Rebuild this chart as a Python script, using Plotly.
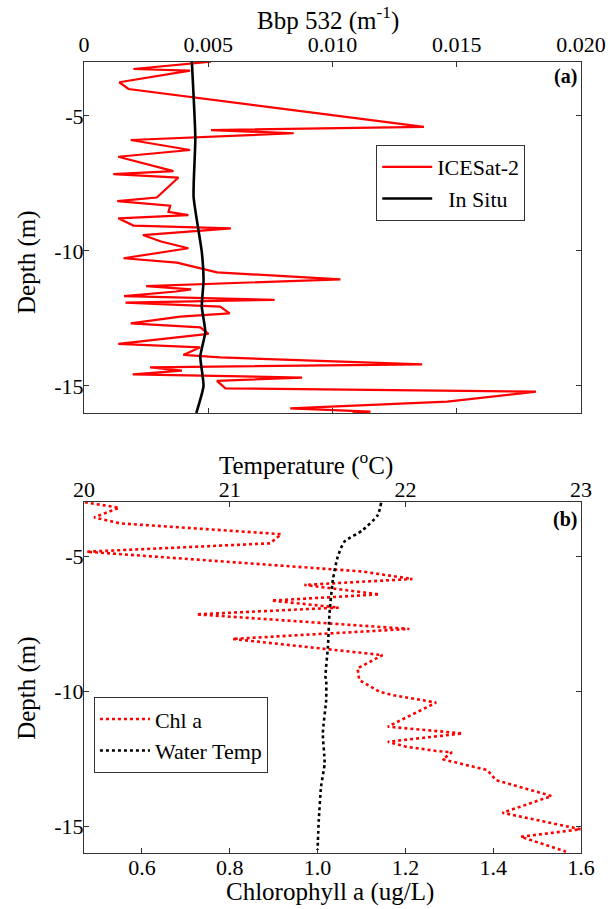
import plotly.graph_objects as go

# ---- Panel (a): backscatter profiles ----
icesat_bbp = [0.00511, 0.00199, 0.00427, 0.00142, 0.00179, 0.01368, 0.00511, 0.00844,
              0.00188, 0.00427, 0.00138, 0.00360, 0.00118, 0.00380, 0.00293, 0.00134,
              0.00347, 0.00340, 0.00420, 0.00138, 0.00199, 0.00591, 0.00237, 0.00310,
              0.00420, 0.00159, 0.00374, 0.00535, 0.01032, 0.00250, 0.00431, 0.00370,
              0.00161, 0.00767, 0.00167, 0.00548, 0.00586, 0.00387, 0.00188, 0.00468,
              0.00501, 0.00138, 0.00468, 0.00400, 0.00548, 0.01361, 0.00266, 0.00394,
              0.00196, 0.00878, 0.00535, 0.00569, 0.01819, 0.01462, 0.00830, 0.01153,
              0.01080]
icesat_depth = [-2.99, -3.26, -3.32, -3.75, -4.00, -5.40, -5.52, -5.64,
                -5.89, -6.26, -6.51, -7.04, -7.15, -7.28, -8.02, -8.15,
                -8.32, -8.55, -8.67, -8.79, -9.06, -9.16, -9.41, -9.65,
                -9.90, -10.27, -10.43, -10.79, -11.05, -11.30, -11.42, -11.50,
                -11.67, -11.81, -11.91, -12.06, -12.31, -12.43, -12.68, -12.83,
                -13.07, -13.44, -13.57, -13.85, -13.94, -14.20, -14.31, -14.43,
                -14.57, -14.69, -14.81, -15.09, -15.21, -15.58, -15.83, -15.95,
                -16.00]
insitu_bbp = [0.00434, 0.00448, 0.00441, 0.00474, 0.00481, 0.00474, 0.00488, 0.00468,
              0.00481, 0.00452]
insitu_depth = [-2.99, -5.83, -7.99, -10.03, -11.10, -12.06, -13.00, -13.91, -15.00, -16.00]

# ---- Panel (b): chlorophyll and temperature profiles ----
chl = [0.470, 0.548, 0.491, 0.550, 0.917, 0.892, 0.474, 1.100, 1.216, 0.970,
       1.141, 0.895, 1.048, 0.724, 1.209, 0.806, 1.148, 1.091, 1.095, 1.141,
       1.171, 1.270, 1.160, 1.330, 1.160, 1.201, 1.270, 1.306, 1.285, 1.387,
       1.406, 1.533, 1.421, 1.599, 1.463, 1.566]
chl_depth = [-3.01, -3.21, -3.57, -3.79, -4.19, -4.53, -4.84, -5.57, -5.85, -6.07,
             -6.42, -6.65, -6.91, -7.16, -7.70, -8.07, -8.67, -9.16, -9.59, -10.03,
             -10.15, -10.43, -11.32, -11.57, -11.88, -12.06, -12.22, -12.27, -12.53, -12.93,
             -13.30, -13.89, -14.51, -15.12, -15.40, -15.95]
temp = [21.862, 21.843, 21.757, 21.653, 21.615, 21.587, 21.568, 21.559, 21.545,
        21.549, 21.549, 21.530, 21.540, 21.520, 21.507, 21.500]
temp_depth = [-3.03, -3.48, -4.04, -4.47, -5.02, -5.89, -7.12, -8.36, -9.47,
              -9.60, -10.33, -11.57, -12.68, -13.54, -14.78, -15.89]

bbp_ticks = [0, 0.005, 0.010, 0.015, 0.020]
bbp_ticktext = ["0", "0.005", "0.010", "0.015", "0.020"]
chl_ticks = [0.6, 0.8, 1.0, 1.2, 1.4, 1.6]
chl_ticktext = ["0.6", "0.8", "1.0", "1.2", "1.4", "1.6"]
temp_ticks = [20.17, 21, 22, 23]
temp_ticktext = ["20", "21", "22", "23"]
depth_ticks = [-5, -10, -15]
depth_ticktext = ["-5", "-10", "-15"]

FONT = "Liberation Serif, Tinos, 'Times New Roman', 'DejaVu Serif', serif"
AX = "#333333"

fig = go.Figure()
fig.add_trace(go.Scatter(x=icesat_bbp, y=icesat_depth, mode="lines", name="ICESat-2",
                         line=dict(color="#ff0000", width=2.2), xaxis="x", yaxis="y",
                         legend="legend"))
fig.add_trace(go.Scatter(x=insitu_bbp, y=insitu_depth, mode="lines",
                         name="\u00a0\u00a0In Situ",
                         line=dict(color="black", width=2.6, shape="spline", smoothing=0.5),
                         xaxis="x", yaxis="y", legend="legend"))
fig.add_trace(go.Scatter(x=chl, y=chl_depth, mode="lines", name="Chl a",
                         line=dict(color="#ff0000", width=2.6, dash="dot"),
                         xaxis="x2", yaxis="y2", legend="legend2"))
fig.add_trace(go.Scatter(x=temp, y=temp_depth, mode="lines", name="Water Temp",
                         line=dict(color="black", width=2.6, dash="dot", shape="spline",
                                   smoothing=0.6),
                         xaxis="x3", yaxis="y2", legend="legend2"))

axis_common = dict(showline=True, linecolor=AX, linewidth=1.2, ticks="inside",
                   ticklen=5, tickcolor=AX, showgrid=False, zeroline=False,
                   automargin=False,
                   tickfont=dict(family=FONT, size=22, color="black"))

top_dom = [0.5563, 1.0]
bot_dom = [0.0, 0.4437]
TITLE_FONT = dict(family=FONT, size=25, color="black")


def title_ann(text, x, y, angle=0):
    return dict(text=text, xref="paper", yref="paper", x=x, y=y, xanchor="center",
                yanchor="middle", showarrow=False, textangle=angle, font=TITLE_FONT)


fig.update_layout(
    width=610, height=909,
    margin=dict(l=84, r=29, t=62, b=56),
    paper_bgcolor="white", plot_bgcolor="white",
    font=dict(family=FONT, color="black"),
    xaxis=dict(axis_common, side="top", anchor="y", range=[0, 0.020], mirror="ticks",
               tickvals=bbp_ticks, ticktext=bbp_ticktext),
    yaxis=dict(axis_common, domain=top_dom, anchor="x", range=[-16, -3], mirror="ticks",
               tickvals=depth_ticks, ticktext=depth_ticktext, ticklabelstandoff=-5),
    xaxis2=dict(axis_common, side="bottom", anchor="y2", range=[0.468, 1.6], mirror=False,
                tickvals=chl_ticks, ticktext=chl_ticktext, ticklabelstandoff=-6),
    xaxis3=dict(axis_common, side="top", anchor="y2", overlaying="x2", range=[20.17, 23],
                tickvals=temp_ticks, ticktext=temp_ticktext, ticklabelstandoff=-5),
    yaxis2=dict(axis_common, domain=bot_dom, anchor="x2", range=[-16, -3], mirror="ticks",
                tickvals=depth_ticks, ticktext=depth_ticktext, ticklabelstandoff=-5),
    legend=dict(x=0.588, y=0.895, xanchor="left", yanchor="top",
                bordercolor=AX, borderwidth=1, bgcolor="white",
                font=dict(family=FONT, size=22, color="black"),
                tracegroupgap=0, itemwidth=50),
    legend2=dict(x=0.02, y=0.197, xanchor="left", yanchor="top",
                 bordercolor=AX, borderwidth=1, bgcolor="white",
                 font=dict(family=FONT, size=22, color="black"),
                 tracegroupgap=0, itemwidth=50),
    showlegend=True,
    annotations=[
        title_ann("Bbp 532 (m<sup>-1</sup>)", 0.49, 1.0556),
        title_ann("Depth (m)", -0.115, 0.747, -90),
        title_ann("Temperature (<sup>o</sup>C)", 0.447, 0.4925),
        title_ann("Chlorophyll a (ug/L)", 0.494, -0.0493),
        title_ann("Depth (m)", -0.115, 0.2086, -90),
        dict(text="<b>(a)</b>", xref="paper", yref="paper", x=0.995, y=0.999,
             xanchor="right", yanchor="top", showarrow=False,
             font=dict(family=FONT, size=20, color="black")),
        dict(text="<b>(b)</b>", xref="paper", yref="paper", x=0.995, y=0.439,
             xanchor="right", yanchor="top", showarrow=False,
             font=dict(family=FONT, size=20, color="black")),
    ],
)

fig.write_html("out.html", config={"displayModeBar": False},
               post_script="document.body.style.margin='0px';")
